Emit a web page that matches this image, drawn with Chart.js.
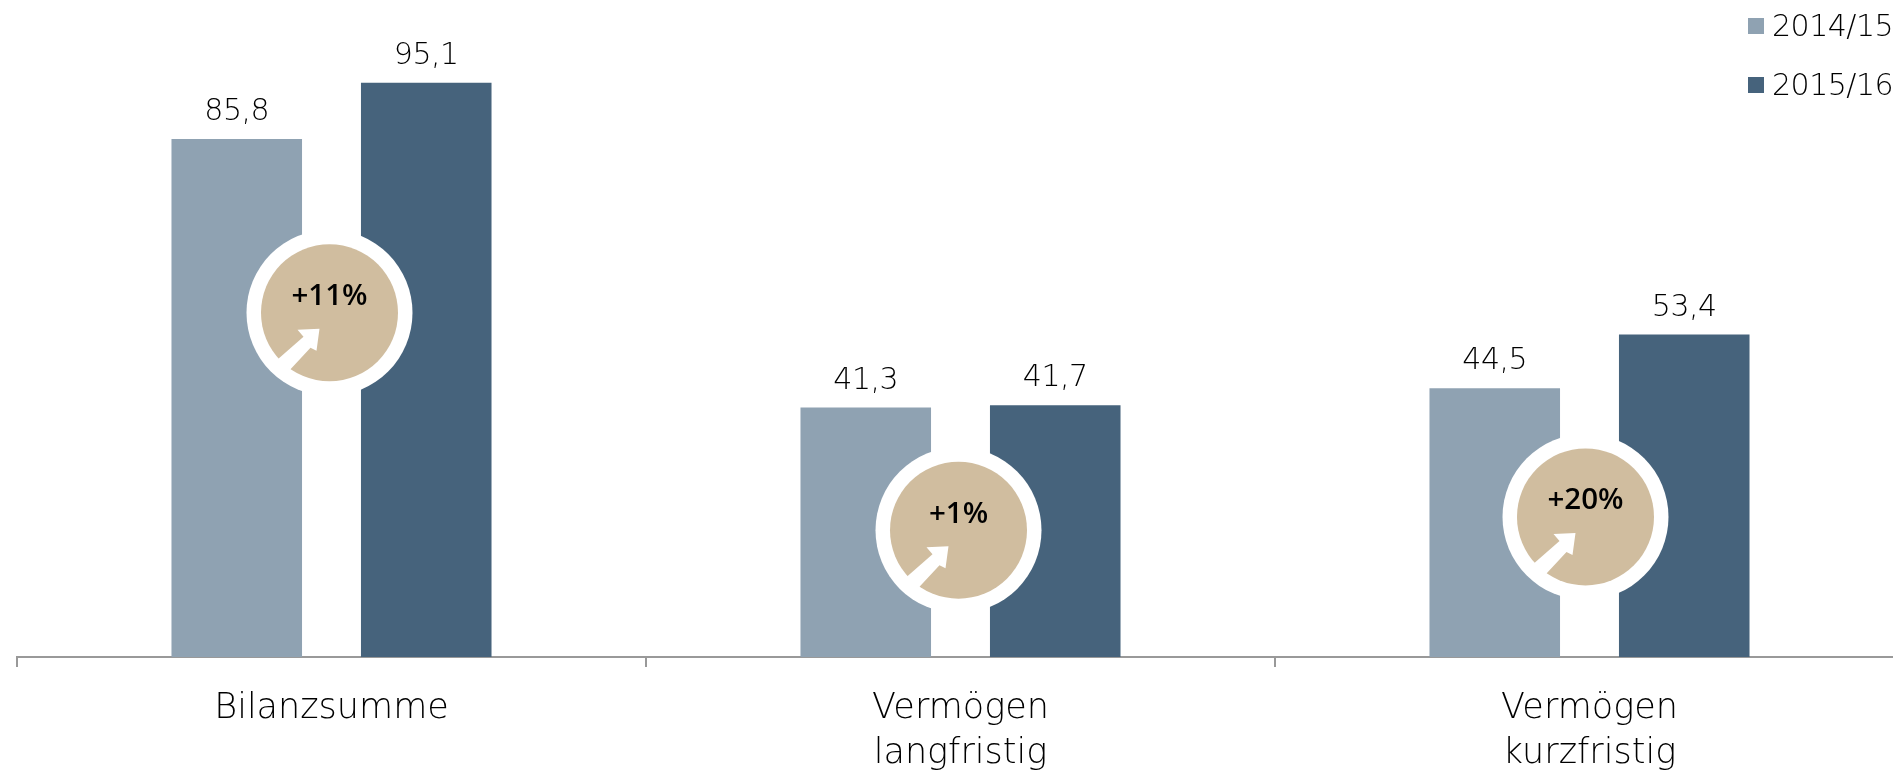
<!DOCTYPE html>
<html>
<head>
<meta charset="utf-8">
<title>Bilanz</title>
<script src="https://cdn.jsdelivr.net/npm/chart.js@4"></script>
<style>
html, body { margin: 0; padding: 0; width: 1893px; height: 771px; overflow: hidden; background: #fff; }
canvas { display: block; }
</style>
</head>
<body>
<canvas id="chart1" width="1905" height="771"></canvas>
<script>
const categories = [['Bilanzsumme'], ['Vermögen', 'langfristig'], ['Vermögen', 'kurzfristig']];
const years = ['2014/15', '2015/16'];
const values2014 = [85.8, 41.3, 44.5];
const values2015 = [95.1, 41.7, 53.4];
const changes = ['+11%', '+1%', '+20%'];
const badgeLevels = [57, 21, 23.2];
const badgeShift = [-2, -2, -4];

const lightBlue = '#8FA2B2';
const darkBlue = '#46637C';
const tan = '#D0BD9F';
const thinFont = '"DejaVu Sans ExtraLight", "DejaVu Sans", sans-serif';

// value labels, the round change badges and the legend in the top right corner
const extras = {
    id: 'extras',
    afterDatasetsDraw(chart) {
        const ctx = chart.ctx;
        const x = chart.scales.x;
        const y = chart.scales.y;
        ctx.save();

        ctx.fillStyle = '#000';
        ctx.font = '300 30px ' + thinFont;
        ctx.letterSpacing = '-0.5px';
        ctx.textAlign = 'center';
        ctx.textBaseline = 'alphabetic';
        chart.data.datasets.forEach((ds, i) => {
            chart.getDatasetMeta(i).data.forEach((bar, j) => {
                ctx.fillText(ds.data[j].toFixed(1).replace('.', ','), bar.x, bar.y - 19);
            });
        });

        changes.forEach((text, i) => {
            const cx = x.getPixelForValue(i) + badgeShift[i];
            const cy = y.getPixelForValue(badgeLevels[i]);
            ctx.fillStyle = '#fff';
            ctx.beginPath();
            ctx.arc(cx, cy, 83, 0, Math.PI * 2);
            ctx.fill();
            ctx.fillStyle = tan;
            ctx.beginPath();
            ctx.arc(cx, cy, 68.5, 0, Math.PI * 2);
            ctx.fill();

            ctx.fillStyle = '#fff';
            ctx.beginPath();
            ctx.moveTo(cx - 10, cy + 16);
            ctx.lineTo(cx - 32, cy + 17);
            ctx.lineTo(cx - 26, cy + 24);
            ctx.lineTo(cx - 58, cy + 52);
            ctx.lineTo(cx - 46, cy + 64);
            ctx.lineTo(cx - 19, cy + 35);
            ctx.lineTo(cx - 13, cy + 38);
            ctx.closePath();
            ctx.fill();

            ctx.fillStyle = '#000';
            ctx.letterSpacing = '0px';
            ctx.font = '600 29.5px "Open Sans", sans-serif';
            ctx.textBaseline = 'middle';
            ctx.fillText(text, cx, cy - 16);
        });

        ctx.textAlign = 'left';
        ctx.textBaseline = 'middle';
        ctx.font = '300 30px ' + thinFont;
        ctx.letterSpacing = '-0.5px';
        years.forEach((year, i) => {
            const top = 18 + i * 59;
            ctx.fillStyle = i === 0 ? lightBlue : darkBlue;
            ctx.fillRect(1748, top, 16, 16);
            ctx.fillStyle = '#000';
            ctx.fillText(year, 1772, top + 10);
        });
        ctx.restore();
    }
};

new Chart(document.getElementById('chart1').getContext('2d'), {
    type: 'bar',
    data: {
        labels: categories,
        datasets: [
            { label: years[0], data: values2014, backgroundColor: lightBlue },
            { label: years[1], data: values2015, backgroundColor: darkBlue }
        ]
    },
    options: {
        responsive: false,
        animation: false,
        categoryPercentage: 0.6025,
        barPercentage: 0.689,
        layout: { padding: { left: 17, right: 1, top: 0, bottom: 0 } },
        plugins: { legend: { display: false }, tooltip: { enabled: false } },
        scales: {
            x: {
                afterFit(scale) { scale.height = 114; },
                border: { color: '#999', width: 2 },
                grid: { drawOnChartArea: false, drawTicks: true, tickLength: 10, color: '#999', lineWidth: 2, offset: true },
                ticks: {
                    color: '#000',
                    padding: 19,
                    maxRotation: 0,
                    font: { family: thinFont, size: 35, weight: '300', lineHeight: 1.29 }
                }
            },
            y: { display: false, min: 0, max: 108.8 }
        }
    },
    plugins: [extras]
});
</script>
</body>
</html>
